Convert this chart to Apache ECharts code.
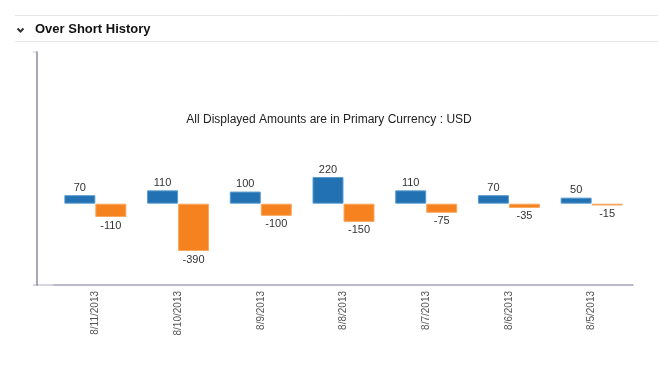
<!DOCTYPE html>
<html>
<head>
<meta charset="utf-8">
<script src="https://cdn.jsdelivr.net/npm/echarts@6/dist/echarts.min.js"></script>
<style>
html,body{margin:0;padding:0;background:#fff;}
#c{width:658px;height:385px;}
</style>
</head>
<body>
<div id="c"></div>
<script>
var categories = ['8/11/2013','8/10/2013','8/9/2013','8/8/2013','8/7/2013','8/6/2013','8/5/2013'];
var overValues = [70, 110, 100, 220, 110, 70, 50];
var shortValues = [-110, -390, -100, -150, -75, -35, -15];

var chart = echarts.init(document.getElementById('c'), null, {renderer:'canvas'});
var labelFont = {fontFamily:'Liberation Sans, Arial, sans-serif', fontSize:11, color:'#333'};
chart.setOption({
  animation:false,
  backgroundColor:'#fff',
  title:{
    text:'All Displayed Amounts are in Primary Currency : USD',
    left:'center', top:109,
    textStyle:{fontFamily:'Liberation Sans, Arial, sans-serif', fontSize:12, fontWeight:'normal', color:'#222'}
  },
  grid:{left:54, right:25, top:52, bottom:100},
  xAxis:{
    type:'category', data:categories,
    axisLine:{show:true, onZero:false, lineStyle:{color:'#a3a3b8', width:1.5}},
    axisTick:{show:false},
    axisLabel:{rotate:90, fontFamily:'Liberation Sans, Arial, sans-serif', fontSize:10, color:'#555', margin:6}
  },
  yAxis:{
    type:'value', min:-670, max:1250, offset:17,
    axisLine:{show:true, lineStyle:{color:'#8a8aa0', width:1.5}},
    axisTick:{show:false}, axisLabel:{show:false}, splitLine:{show:false}
  },
  series:[
    {type:'bar', data:overValues, barWidth:31, barGap:'0%',
     itemStyle:{color:'#2271b3', borderColor:'#5a9bd0', borderWidth:1},
     label:{show:true, position:'top', distance:2, ...labelFont}},
    {type:'bar', data:shortValues, barWidth:31, barGap:'0%',
     itemStyle:{color:'#f5821f', borderColor:'#f8a860', borderWidth:1},
     label:{show:true, position:'bottom', distance:3, ...labelFont}}
  ],
  graphic:[
    {type:'line', shape:{x1:15,y1:15.5,x2:658,y2:15.5}, style:{stroke:'#e6e6e6', lineWidth:1}},
    {type:'line', shape:{x1:15,y1:41.5,x2:658,y2:41.5}, style:{stroke:'#e6e6e6', lineWidth:1}},
    {type:'polyline', shape:{points:[[17.5,28.5],[20.5,31.5],[23.5,28.5]]}, style:{stroke:'#333', lineWidth:2, fill:null}},
    {type:'text', left:35, top:23, style:{text:'Over Short History', font:'bold 13px "Liberation Sans", Arial, sans-serif', fill:'#111'}},
    {type:'line', shape:{x1:33,y1:285,x2:54,y2:285}, style:{stroke:'#c8c8d4', lineWidth:1.5}},
    {type:'line', shape:{x1:33,y1:52,x2:37,y2:52}, style:{stroke:'#c8c8d4', lineWidth:1}}
  ]
});
</script>
</body>
</html>
